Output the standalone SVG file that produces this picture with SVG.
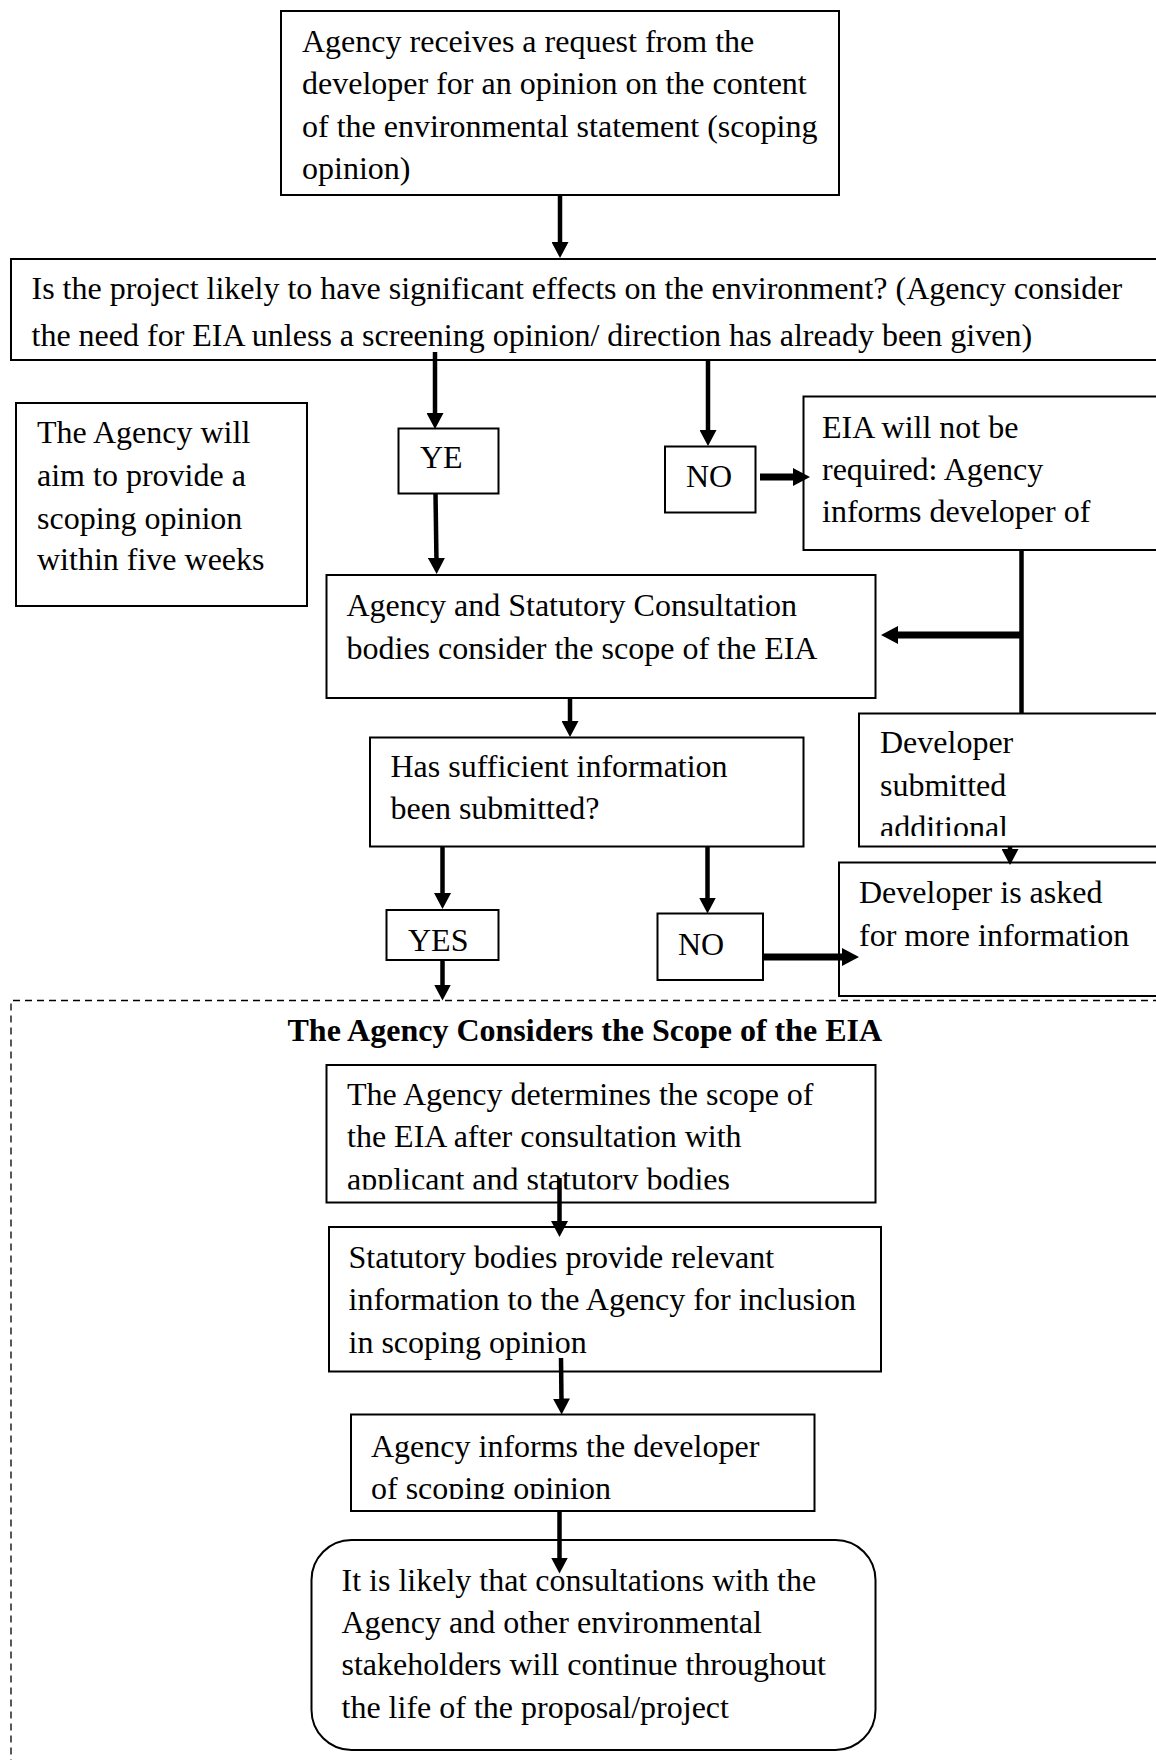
<svg xmlns="http://www.w3.org/2000/svg" width="1156" height="1760" viewBox="0 0 1156 1760">
  <style>
    .box { fill: #fff; stroke: #000; stroke-width: 2; }
    .txt { font-family: "Liberation Serif", "Times New Roman", serif; font-size: 32px; fill: #000; }
    .title { font-family: "Liberation Serif", "Times New Roman", serif; font-size: 32px; font-weight: bold; fill: #000; }
    .wire { stroke: #000; stroke-width: 4.5; fill: none; }
    .thick { stroke: #000; stroke-width: 7; fill: none; }
    .dash { stroke: #000; stroke-width: 1.3; fill: none; stroke-dasharray: 7 5; }
  </style>
  <defs>
    <marker id="ah" markerUnits="userSpaceOnUse" markerWidth="16" markerHeight="17" viewBox="0 0 16 17" refX="5" refY="8.5" orient="auto">
      <path d="M0,0 L16,8.5 L0,17 Z" fill="#000"/>
    </marker>
    <marker id="ahThick" markerUnits="userSpaceOnUse" markerWidth="17" markerHeight="18" viewBox="0 0 17 18" refX="6" refY="9" orient="auto">
      <path d="M0,0 L17,9 L0,18 Z" fill="#000"/>
    </marker>
    <clipPath id="clipSubmitted"><rect x="859" y="713" width="300" height="123"/></clipPath>
    <clipPath id="clipDetermines"><rect x="326" y="1065" width="550" height="124.5"/></clipPath>
    <clipPath id="clipInforms"><rect x="351" y="1414" width="464" height="85"/></clipPath>
  </defs>

  <!-- dashed frame around the scoping stage -->
  <g id="scope-frame">
    <path class="dash" d="M1160,1000.5 H11 V1770"/>
    <text class="title" x="287.5" y="1041">The Agency Considers the Scope of the EIA</text>
  </g>

  <g id="request">
    <rect class="box" x="281" y="11" width="558" height="184"/>
    <text class="txt" x="302" y="51.5">Agency receives a request from the</text>
    <text class="txt" x="302" y="94">developer for an opinion on the content</text>
    <text class="txt" x="302" y="136.5">of the environmental statement (scoping</text>
    <text class="txt" x="302" y="179">opinion)</text>
  </g>

  <g id="significant-effects">
    <rect class="box" x="11" y="259" width="1160" height="101"/>
    <text class="txt" x="31.5" y="299">Is the project likely to have significant effects on the environment? (Agency consider</text>
    <text class="txt" x="31.5" y="345.5">the need for EIA unless a screening opinion/ direction has already been given)</text>
  </g>

  <g id="five-weeks-note">
    <rect class="box" x="16" y="403" width="291" height="203"/>
    <text class="txt" x="37" y="443">The Agency will</text>
    <text class="txt" x="37" y="486">aim to provide a</text>
    <text class="txt" x="37" y="528.5">scoping opinion</text>
    <text class="txt" x="37" y="570">within five weeks</text>
  </g>

  <g id="ye">
    <rect class="box" x="398.5" y="428.5" width="100" height="65"/>
    <text class="txt" x="420" y="468">YE</text>
  </g>

  <g id="no-eia">
    <rect class="box" x="665" y="446.5" width="90.5" height="66"/>
    <text class="txt" x="686" y="487">NO</text>
  </g>

  <g id="eia-not-required">
    <rect class="box" x="803.5" y="396.5" width="360" height="153.5"/>
    <text class="txt" x="822" y="437.5">EIA will not be</text>
    <text class="txt" x="822" y="480">required: Agency</text>
    <text class="txt" x="822" y="522">informs developer of</text>
  </g>

  <g id="consider-scope">
    <rect class="box" x="326.5" y="575" width="549" height="123"/>
    <text class="txt" x="346.5" y="615.5">Agency and Statutory Consultation</text>
    <text class="txt" x="346.5" y="658.5">bodies consider the scope of the EIA</text>
  </g>

  <g id="sufficient-info">
    <rect class="box" x="370" y="737.5" width="433.5" height="109"/>
    <text class="txt" x="390.5" y="776.5">Has sufficient information</text>
    <text class="txt" x="390.5" y="819">been submitted?</text>
  </g>

  <g id="additional-submitted">
    <rect class="box" x="859" y="713.5" width="300" height="133"/>
    <g clip-path="url(#clipSubmitted)">
      <text class="txt" x="880" y="753">Developer</text>
      <text class="txt" x="880" y="795.5">submitted</text>
      <text class="txt" x="880" y="837.5">additional</text>
    </g>
  </g>

  <g id="yes">
    <rect class="box" x="386.5" y="910" width="112" height="50"/>
    <text class="txt" x="408" y="951">YES</text>
  </g>

  <g id="no-info">
    <rect class="box" x="657.5" y="913.5" width="105.5" height="66.5"/>
    <text class="txt" x="678" y="955">NO</text>
  </g>

  <g id="more-info">
    <rect class="box" x="839" y="862.5" width="320" height="133.5"/>
    <text class="txt" x="859" y="903">Developer is asked</text>
    <text class="txt" x="859" y="946">for more information</text>
  </g>

  <g id="determines-scope">
    <rect class="box" x="326.5" y="1065" width="549" height="137.5"/>
    <g clip-path="url(#clipDetermines)">
      <text class="txt" x="347" y="1104.5">The Agency determines the scope of</text>
      <text class="txt" x="347" y="1147">the EIA after consultation with</text>
      <text class="txt" x="347" y="1190">applicant and statutory bodies</text>
    </g>
  </g>

  <g id="bodies-provide">
    <rect class="box" x="329" y="1227" width="552" height="144.5"/>
    <text class="txt" x="348.5" y="1267.5">Statutory bodies provide relevant</text>
    <text class="txt" x="348.5" y="1310">information to the Agency for inclusion</text>
    <text class="txt" x="348.5" y="1352.5">in scoping opinion</text>
  </g>

  <g id="informs-developer">
    <rect class="box" x="351" y="1414.5" width="463.5" height="96.5"/>
    <g clip-path="url(#clipInforms)">
      <text class="txt" x="371" y="1456.5">Agency informs the developer</text>
      <text class="txt" x="371" y="1499">of scoping opinion</text>
    </g>
  </g>

  <g id="ongoing-consultation">
    <rect class="box" x="311.5" y="1540" width="564" height="210" rx="40" ry="40"/>
    <text class="txt" x="341.5" y="1590.5">It is likely that consultations with the</text>
    <text class="txt" x="341.5" y="1632.5">Agency and other environmental</text>
    <text class="txt" x="341.5" y="1675">stakeholders will continue throughout</text>
    <text class="txt" x="341.5" y="1717.5">the life of the proposal/project</text>
  </g>

  <g id="connectors">
    <line class="wire" x1="560" y1="195" x2="560" y2="247" marker-end="url(#ah)"/>
    <line class="wire" x1="435" y1="352" x2="435" y2="418" marker-end="url(#ah)"/>
    <line class="wire" x1="435.5" y1="493" x2="436.5" y2="563" marker-end="url(#ah)"/>
    <line class="wire" x1="708" y1="360" x2="708" y2="435" marker-end="url(#ah)"/>
    <line class="thick" x1="760" y1="477" x2="799" y2="477" marker-end="url(#ahThick)"/>
    <line class="wire" x1="1021.5" y1="550" x2="1021.5" y2="713"/>
    <line class="thick" x1="1023" y1="635" x2="892" y2="635" marker-end="url(#ahThick)"/>
    <line class="wire" x1="570" y1="698" x2="570" y2="726" marker-end="url(#ah)"/>
    <line class="wire" x1="442.5" y1="846.5" x2="442.5" y2="898" marker-end="url(#ah)"/>
    <line class="wire" x1="707.5" y1="846.5" x2="707.5" y2="902.5" marker-end="url(#ah)"/>
    <line class="thick" x1="763" y1="957" x2="848" y2="957" marker-end="url(#ahThick)"/>
    <line class="wire" x1="1010" y1="847" x2="1010" y2="854" marker-end="url(#ah)"/>
    <line class="wire" x1="442.5" y1="960" x2="442.5" y2="989.5" marker-end="url(#ah)"/>
    <line class="wire" x1="559.5" y1="1178" x2="559.5" y2="1226" marker-end="url(#ah)"/>
    <line class="wire" x1="561" y1="1358" x2="561.5" y2="1403.5" marker-end="url(#ah)"/>
    <line class="wire" x1="559.5" y1="1511" x2="559.5" y2="1562.5" marker-end="url(#ah)"/>
  </g>
</svg>
